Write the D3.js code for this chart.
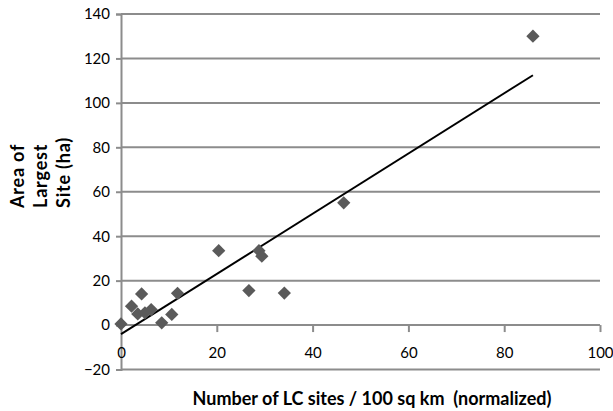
<!DOCTYPE html>
<meta charset="utf-8">
<script src="https://d3js.org/d3.v7.min.js"></script>
<style>
  body { margin: 0; background: #fff; }
  svg { display: block; }
  text { font-family: Lato, "Open Sans", sans-serif; }
</style>
<div id="chart"></div>
<script>
// sites per 100 sq km (normalized) vs area of largest site (ha)
var sitesPer100 = [0, 2.2, 3.5, 4.3, 5, 6.3, 8.5, 10.6, 11.8, 20.4, 26.7, 28.8, 29.4, 34.1, 46.5, 86];
var largestArea = [0.5, 8.5, 5, 14, 5.5, 7, 1, 4.8, 14.3, 33.5, 15.5, 33.5, 31, 14.4, 55, 130];
var xTicks = [0, 20, 40, 60, 80, 100];
var yTicks = [-20, 0, 20, 40, 60, 80, 100, 120, 140];
var yTitleLines = ["Area of", "Largest", "Site (ha)"];
var xTitle = "Number of LC sites / 100 sq km  (normalized)";

var width = 613, height = 411;
var gridColor = "#8c8c8c";

var svg = d3.select("#chart").append("svg")
  .attr("width", width)
  .attr("height", height);

var x = d3.scaleLinear().domain([0, 100]).range([121, 600]);
var y = d3.scaleLinear().domain([-20, 140]).range([369.5, 14]);

// horizontal gridlines
svg.append("g")
  .selectAll("line")
  .data(yTicks.filter(function (d) { return d !== 0; }))
  .enter().append("line")
  .attr("x1", x(0)).attr("x2", x(100))
  .attr("y1", function (d) { return y(d); })
  .attr("y2", function (d) { return y(d); })
  .attr("stroke", gridColor)
  .attr("stroke-width", 2);

// y axis
var yAxis = svg.append("g")
  .attr("transform", "translate(" + x(0) + ",0)")
  .call(d3.axisLeft(y).tickValues(yTicks).tickSize(5).tickPadding(6));

// x axis at y = 0, labels pushed down
var xAxis = svg.append("g")
  .attr("transform", "translate(0," + y(0) + ")")
  .call(d3.axisBottom(x).tickValues(xTicks).tickSize(7).tickPadding(15.5));

[yAxis, xAxis].forEach(function (g) {
  g.select(".domain").attr("stroke", gridColor).attr("stroke-width", 2);
  g.selectAll(".tick line").attr("stroke", gridColor).attr("stroke-width", 2);
  g.selectAll(".tick text")
    .attr("fill", "#000")
    .style("font-size", "15px")
    .style("font-family", "Lato, sans-serif");
});
xAxis.select(".domain").attr("d", "M" + x(0) + ",0H" + x(100));
xAxis.selectAll(".tick").filter(function (d) { return d === 0; }).select("line").remove();

// linear trend line (least squares)
var mx = d3.mean(sitesPer100), my = d3.mean(largestArea);
var sxy = d3.sum(sitesPer100, function (v, i) { return (v - mx) * (largestArea[i] - my); });
var sxx = d3.sum(sitesPer100, function (v) { return (v - mx) * (v - mx); });
var slope = sxy / sxx, intercept = my - slope * mx;
var xMax = d3.max(sitesPer100);

svg.append("line")
  .attr("x1", x(0)).attr("y1", y(intercept))
  .attr("x2", x(xMax)).attr("y2", y(intercept + slope * xMax))
  .attr("stroke", "#000")
  .attr("stroke-width", 2);

// diamond markers
var points = sitesPer100.map(function (v, i) { return [v, largestArea[i]]; });
svg.append("g")
  .selectAll("path")
  .data(points)
  .enter().append("path")
  .attr("d", d3.symbol().type(d3.symbolSquare).size(88))
  .attr("transform", function (d) {
    return "translate(" + x(d[0]) + "," + y(d[1]) + ") rotate(45)";
  })
  .attr("fill", "#5a5a5a");

// axis titles
var yTitle = svg.append("text")
  .attr("transform", "translate(0,208) rotate(-90)")
  .attr("text-anchor", "start")
  .style("font-size", "18px")
  .style("font-weight", "700")
  .style("letter-spacing", "0.8px");
yTitle.selectAll("tspan")
  .data(yTitleLines)
  .enter().append("tspan")
  .attr("x", 0)
  .attr("y", function (d, i) { return 23.5 + i * 23; })
  .text(function (d) { return d; });

svg.append("text")
  .attr("x", 372)
  .attr("y", 405)
  .attr("text-anchor", "middle")
  .style("font-size", "18px")
  .style("font-weight", "700")
  .style("white-space", "pre")
  .text(xTitle);
</script>
